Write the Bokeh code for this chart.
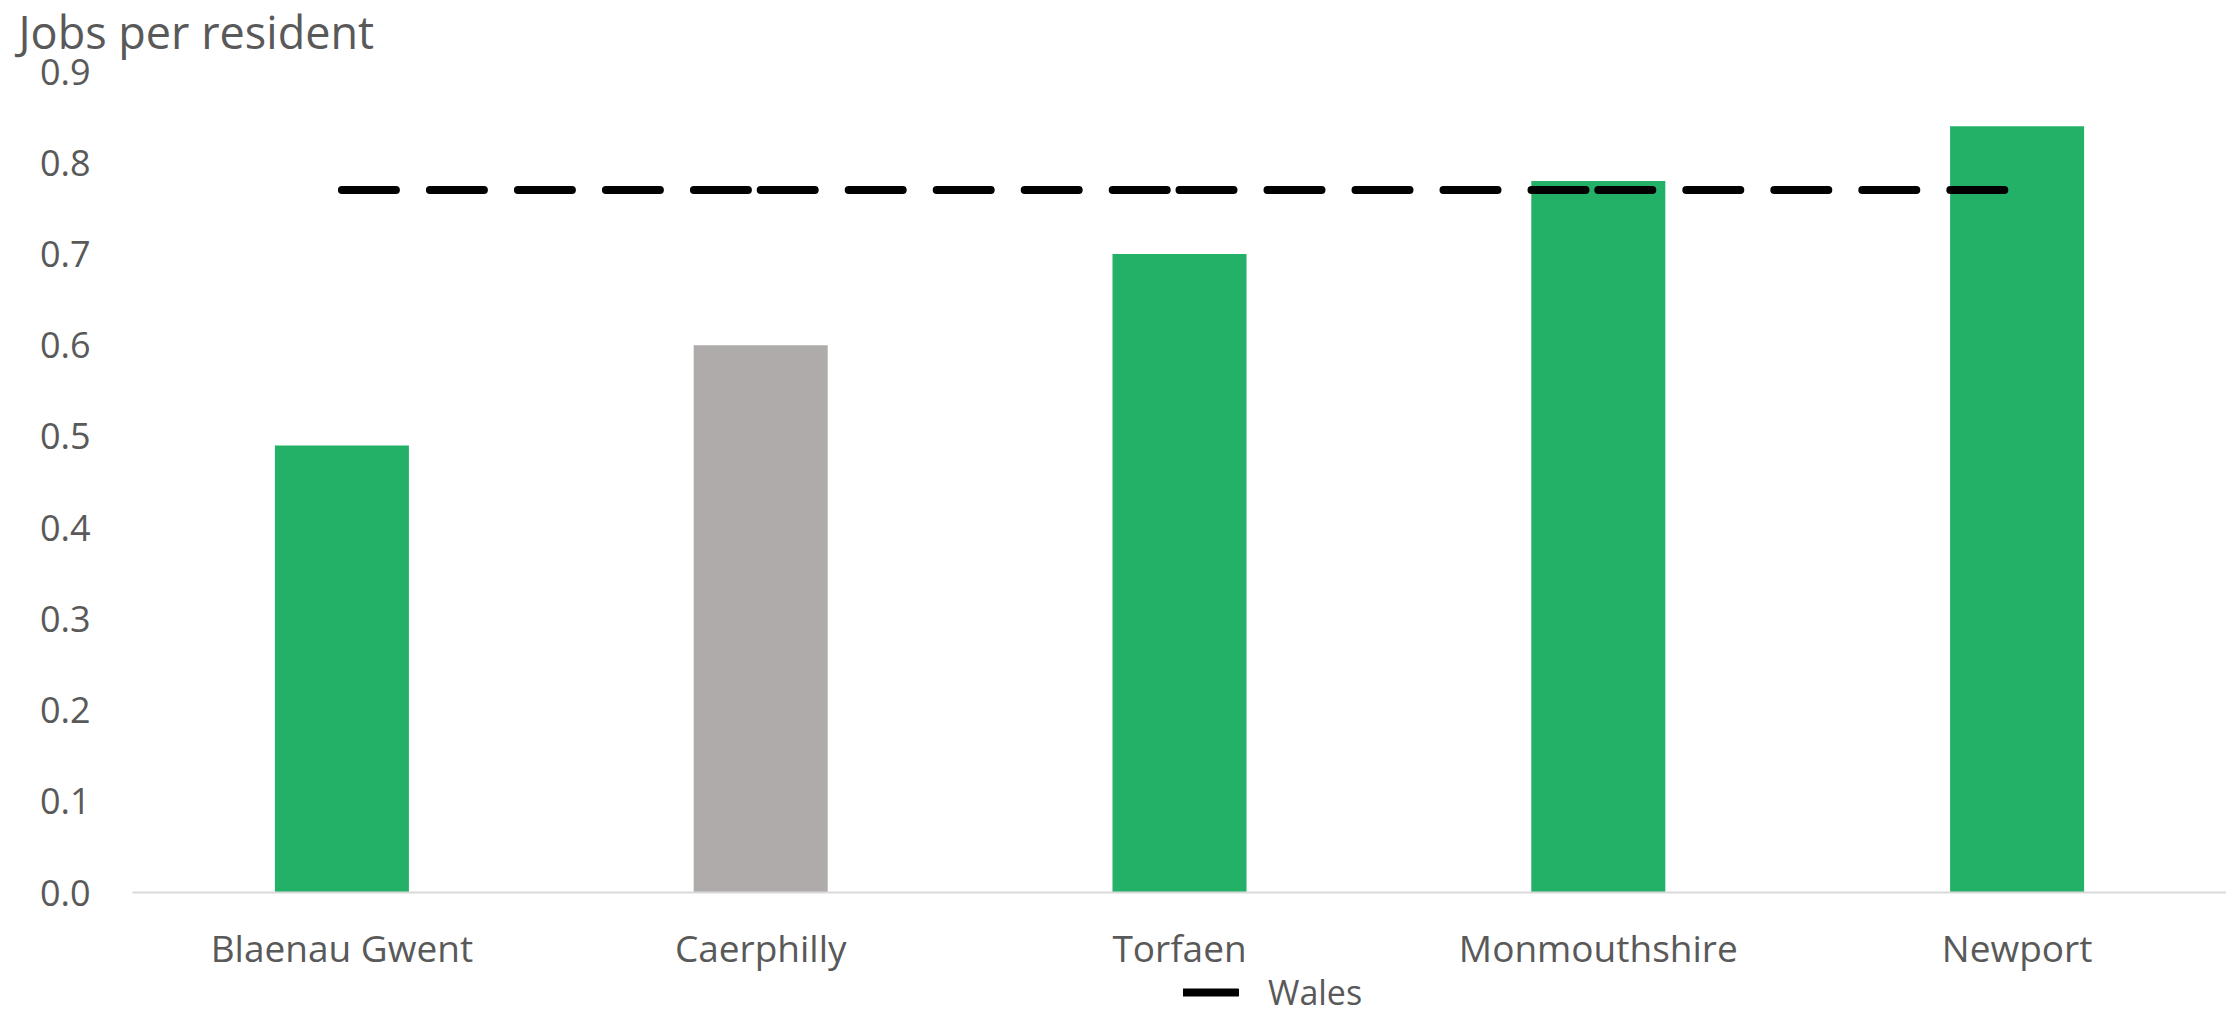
from bokeh.plotting import figure
from bokeh.models import FixedTicker, NumeralTickFormatter, Label, Legend, LegendItem, Range1d
from bokeh.embed import file_html
from bokeh.resources import INLINE

# ---- data ----
areas = ["Blaenau Gwent", "Caerphilly", "Torfaen", "Monmouthshire", "Newport"]
jobs_per_resident = [0.49, 0.60, 0.70, 0.78, 0.84]
bar_colors = ["#23B067", "#AFABAB", "#23B067", "#23B067", "#23B067"]
wales = [0.77, 0.77, 0.77, 0.77, 0.77]
y_ticks = [0.0, 0.1, 0.2, 0.3, 0.4, 0.5, 0.6, 0.7, 0.8, 0.9]
y_title = "Jobs per resident"
series_name = "Wales"

# ---- layout constants (pixels) ----
TEXT = "#595959"
FONT = "Open Sans"
W, H = 2226, 1016
PLOT_LEFT = 132          # left edge of plotting area
CAT_PX = (W - PLOT_LEFT) / len(areas)
ZERO_PX = 892            # pixel row of y = 0
TOP_PX = 71              # pixel row of y = 0.9
UNIT_PX = (ZERO_PX - TOP_PX) / 0.9

idx = list(range(len(areas)))
x_start = -0.5 - PLOT_LEFT / CAT_PX
x_end = len(areas) - 0.5
y_end = ZERO_PX / UNIT_PX
y_start = -(H - ZERO_PX) / UNIT_PX

p = figure(width=W, height=H, x_range=Range1d(x_start, x_end), y_range=Range1d(y_start, y_end),
           output_backend="svg", toolbar_location=None,
           min_border_left=0, min_border_right=0, min_border_top=0, min_border_bottom=0)
p.outline_line_color = None
p.xgrid.visible = False
p.ygrid.visible = False

p.vbar(x=idx, top=jobs_per_resident, width=0.32, fill_color=bar_colors, line_color=None)

xs = [[idx[i], idx[i + 1]] for i in range(len(idx) - 1)]
ys = [[wales[i], wales[i + 1]] for i in range(len(idx) - 1)]
r_wales = p.multi_line(xs, ys, line_color="black", line_width=8, line_dash="54 34", line_cap="round")

# x axis, fixed at y = 0
p.xaxis.fixed_location = 0
p.xaxis.bounds = (-0.5, len(areas) - 0.5)
p.xaxis.ticker = FixedTicker(ticks=idx)
p.xaxis.major_label_overrides = {i: a for i, a in zip(idx, areas)}
p.xaxis.axis_line_color = "#D9D9D9"
p.xaxis.axis_line_width = 2
p.xaxis.major_tick_line_color = None
p.xaxis.minor_tick_line_color = None
p.xaxis.major_label_text_font = FONT
p.xaxis.major_label_text_font_size = "37px"
p.xaxis.major_label_text_color = TEXT
p.xaxis.major_label_standoff = 23

# y axis, fixed at the left edge of the plotting area
p.yaxis.fixed_location = -0.5
p.yaxis.ticker = FixedTicker(ticks=y_ticks)
p.yaxis.formatter = NumeralTickFormatter(format="0.0")
p.yaxis.axis_line_color = None
p.yaxis.major_tick_line_color = None
p.yaxis.minor_tick_line_color = None
p.yaxis.major_label_text_font = FONT
p.yaxis.major_label_text_font_size = "36px"
p.yaxis.major_label_text_color = TEXT
p.yaxis.major_label_standoff = 36

title = Label(x=-0.5, y=y_ticks[-1], x_offset=-114, y_offset=40, text=y_title,
              text_font=FONT, text_font_size="45px", text_color=TEXT, text_baseline="alphabetic")
p.add_layout(title)

legend = Legend(items=[LegendItem(label=series_name, renderers=[r_wales])],
                location=(1183, 1), orientation="horizontal",
                border_line_color=None, background_fill_alpha=0, padding=0, margin=0,
                glyph_width=56, glyph_height=30, label_height=30, label_standoff=29,
                label_text_font=FONT, label_text_font_size="34px", label_text_color=TEXT)
p.add_layout(legend)

open("out.html", "w").write(file_html(p, INLINE))
